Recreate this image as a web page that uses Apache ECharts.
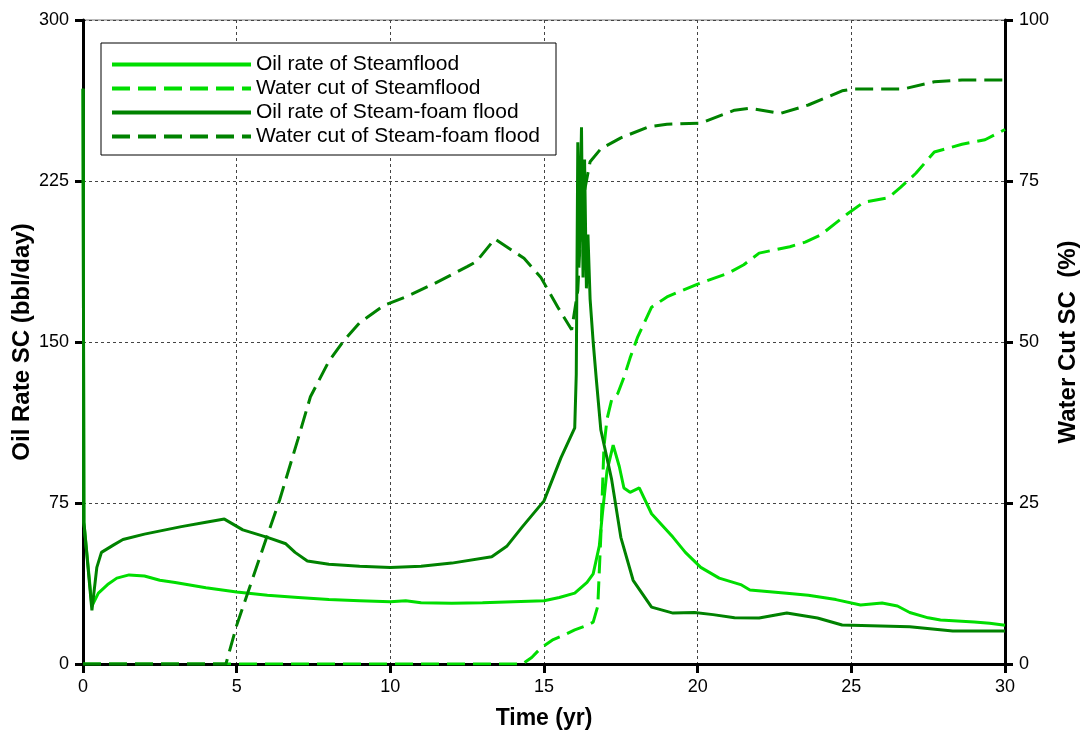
<!DOCTYPE html>
<html>
<head>
<meta charset="utf-8">
<script src="https://cdn.jsdelivr.net/npm/echarts@6/dist/echarts.min.js"></script>
<style>
  html, body { margin: 0; padding: 0; background: #fff; }
  #chart { width: 1086px; height: 735px; }
</style>
</head>
<body>
<div id="chart"></div>
<script>
// x axis / y axis ticks
var timeTicks = [0, 5, 10, 15, 20, 25, 30];
var oilTicks = [0, 75, 150, 225, 300];
var cutTicks = [0, 25, 50, 75, 100];

// Oil rate of Steamflood (bbl/day)
var sfOilT = [0, 0.03, 0.29, 0.5, 0.8, 1.1, 1.5, 2, 2.5, 3, 4, 5, 6, 7, 8, 9, 10, 10.5, 11, 12, 13, 14, 15, 15.5, 16, 16.4, 16.6, 16.8, 16.9, 17.05, 17.25, 17.45, 17.6, 17.8, 18.1, 18.5, 19.2, 19.6, 20.1, 20.7, 21.4, 21.7, 22.9, 23.6, 24.5, 25.3, 26, 26.5, 26.9, 27.5, 27.9, 29, 29.5, 30];
var sfOilV = [268, 66, 27, 33, 37, 40, 41.5, 41, 39, 38, 35.5, 33.5, 32, 31, 30, 29.5, 29, 29.5, 28.5, 28.3, 28.5, 29, 29.5, 31, 33, 38, 42, 55, 70, 90, 102, 92, 82, 80, 82, 70, 59, 52, 45, 40, 37, 34.5, 33, 32, 30, 27.5, 28.4, 27, 24, 21.5, 20.5, 19.6, 19, 18];

// Water cut of Steamflood (%)
var sfCutT = [0, 14.3, 14.6, 14.9, 15.3, 15.7, 16, 16.4, 16.6, 16.75, 16.85, 16.95, 17.05, 17.2, 17.4, 17.6, 17.8, 18.05, 18.5, 19, 19.5, 20, 21, 21.5, 22, 23, 23.5, 24, 24.5, 24.9, 25.4, 26.2, 26.6, 27.1, 27.7, 28.6, 29.35, 30];
var sfCutV = [0, 0, 1, 2.5, 3.8, 4.6, 5.3, 6, 6.5, 9, 20, 33.7, 38, 41, 42, 44.5, 47.5, 50.8, 55.4, 57, 58, 59, 60.7, 62, 63.8, 64.8, 65.5, 66.6, 68.5, 70, 71.7, 72.4, 74, 76.2, 79.5, 80.7, 81.4, 83];

// Oil rate of Steam-foam flood (bbl/day)
var sffOilT = [0, 0.03, 0.29, 0.45, 0.6, 1, 1.3, 2, 3.2, 4, 4.6, 5.2, 6, 6.6, 6.9, 7.3, 8, 9, 10, 11, 12, 13.3, 13.8, 14.3, 15, 15.55, 16, 16.05, 16.1, 16.15, 16.22, 16.27, 16.32, 16.38, 16.43, 16.5, 16.6, 16.7, 16.85, 17.2, 17.5, 17.9, 18.5, 19.2, 19.9, 20.5, 21.2, 22, 22.9, 23.9, 24.7, 26.9, 28.3, 30];
var sffOilV = [268, 66, 25, 45, 52, 55.5, 58, 60.5, 64, 66, 67.5, 62.5, 59, 56, 52, 48, 46.5, 45.5, 45, 45.5, 47, 50, 55, 64, 76, 96, 110, 135, 243, 190, 250, 180, 235, 175, 200, 170, 150, 133, 109, 86, 59, 39, 26.5, 23.7, 24, 23, 21.5, 21.4, 23.8, 21.4, 18.2, 17.3, 15.4, 15.4];

// Water cut of Steam-foam flood (%)
var sffCutT = [0, 4.65, 5, 5.5, 6, 6.4, 7, 7.4, 8, 8.5, 9, 9.8, 10.5, 11.4, 12.5, 12.8, 13.4, 14.35, 14.9, 15.45, 15.9, 16.1, 16.2, 16.3, 16.5, 16.85, 17.5, 18.4, 19, 20.1, 21.2, 21.7, 22.7, 23.6, 24.7, 25.1, 26.7, 27.7, 28.6, 30];
var sffCutV = [0, 0, 6, 13, 20, 25.5, 35, 41.5, 47, 50.3, 53, 55.7, 57, 59, 61.7, 62.5, 66, 63, 60, 55.4, 51.9, 58, 68, 73, 78, 80, 81.7, 83.4, 83.8, 84, 86, 86.3, 85.5, 86.8, 89, 89.3, 89.3, 90.4, 90.7, 90.7];

var lightGreen = "#00dd00";
var darkGreen = "#008200";

function pairs(t, v) {
  return t.map(function (x, i) { return [x, v[i]]; });
}

function makeLine(name, t, v, color, dashed, yIdx) {
  return {
    name: name,
    type: "line",
    yAxisIndex: yIdx,
    data: pairs(t, v),
    symbol: "none",
    smooth: false,
    color: color,
    lineStyle: { color: color, width: 3, type: dashed ? [18, 8] : "solid" }
  };
}

var myChart = echarts.init(document.getElementById("chart"));

var labelFont = { fontFamily: "Arial, Liberation Sans", fontSize: 18, color: "#000" };
var xNameFont = { fontFamily: "Arial, Liberation Sans", fontSize: 23, fontWeight: "bold", color: "#000" };
var yNameFont = { fontFamily: "Arial, Liberation Sans", fontSize: 24, fontWeight: "bold", color: "#000" };
var gridLine = { show: true, lineStyle: { color: "#444", width: 1, type: [3, 3] } };

myChart.setOption({
  animation: false,
  backgroundColor: "#fff",
  grid: {
    left: 83, right: 81, top: 20, bottom: 71,
    outerBoundsMode: "none",
    show: true, borderColor: "#777", borderWidth: 1, backgroundColor: "transparent"
  },
  legend: {
    orient: "vertical",
    left: 101, top: 43,
    padding: [11, 16, 8, 9],
    itemWidth: 139, itemHeight: 14, itemGap: 3,
    borderColor: "#000", borderWidth: 1,
    backgroundColor: "#fff",
    itemStyle: { opacity: 0 },
    lineStyle: { width: 4 },
    textStyle: { fontFamily: "Arial, Liberation Sans", fontSize: 21, color: "#000" },
    data: ["Oil rate of Steamflood", "Water cut of Steamflood", "Oil rate of Steam-foam flood", "Water cut of Steam-foam flood"]
  },
  xAxis: {
    type: "value",
    min: timeTicks[0], max: timeTicks[timeTicks.length - 1], interval: 5,
    name: "Time (yr)", nameLocation: "middle", nameGap: 43, nameMoveOverlap: false,
    nameTextStyle: xNameFont,
    axisLine: { show: true, onZero: false, lineStyle: { color: "#000", width: 3 } },
    axisTick: { show: true, length: 9, lineStyle: { color: "#000", width: 3 } },
    axisLabel: Object.assign({ margin: 14 }, labelFont),
    splitLine: gridLine
  },
  yAxis: [
    {
      type: "value", position: "left",
      min: oilTicks[0], max: oilTicks[oilTicks.length - 1], interval: 75,
      name: "Oil Rate SC (bbl/day)", nameLocation: "middle", nameGap: 49, nameRotate: 90,
      nameMoveOverlap: false,
      nameTextStyle: yNameFont,
      axisLine: { show: true, onZero: false, lineStyle: { color: "#000", width: 3 } },
      axisTick: { show: true, length: 8, lineStyle: { color: "#000", width: 3 } },
      axisLabel: Object.assign({ margin: 14 }, labelFont),
      splitLine: gridLine
    },
    {
      type: "value", position: "right",
      min: cutTicks[0], max: cutTicks[cutTicks.length - 1], interval: 25,
      name: "Water Cut SC  (%)", nameLocation: "middle", nameGap: 51, nameRotate: 90,
      nameMoveOverlap: false,
      nameTextStyle: yNameFont,
      axisLine: { show: true, onZero: false, lineStyle: { color: "#000", width: 3 } },
      axisTick: { show: true, length: 8, lineStyle: { color: "#000", width: 3 } },
      axisLabel: Object.assign({ margin: 14 }, labelFont),
      splitLine: { show: false }
    }
  ],
  series: [
    makeLine("Oil rate of Steamflood", sfOilT, sfOilV, lightGreen, false, 0),
    makeLine("Water cut of Steamflood", sfCutT, sfCutV, lightGreen, true, 1),
    makeLine("Oil rate of Steam-foam flood", sffOilT, sffOilV, darkGreen, false, 0),
    makeLine("Water cut of Steam-foam flood", sffCutT, sffCutV, darkGreen, true, 1)
  ]
});

window.addEventListener("resize", function () {
  myChart.resize();
});
</script>
</body>
</html>
